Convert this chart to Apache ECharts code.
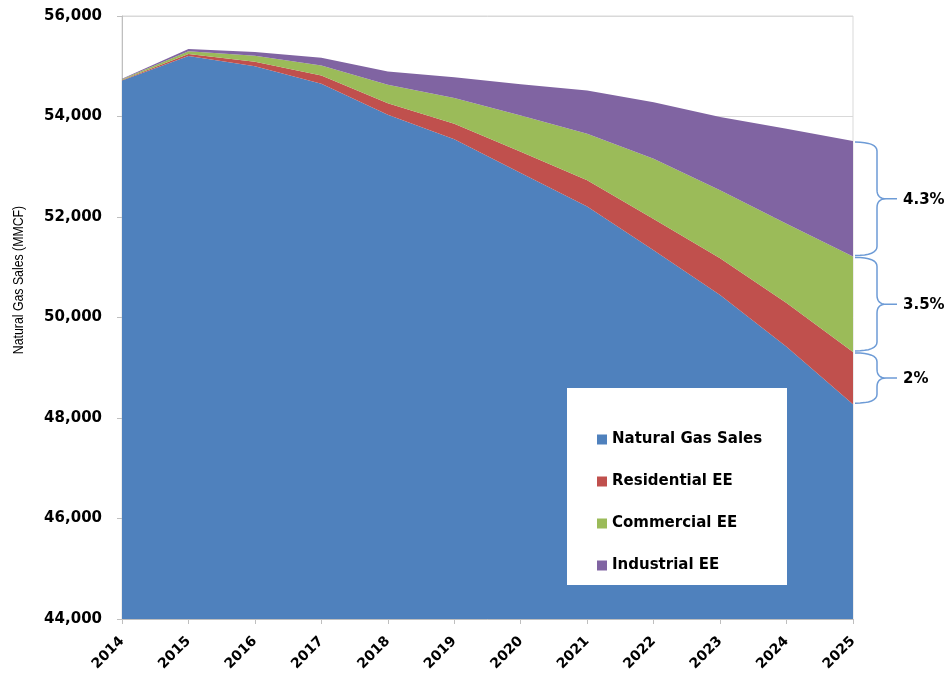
<!DOCTYPE html>
<html>
<head>
<meta charset="utf-8">
<script src="https://cdn.jsdelivr.net/npm/echarts@6/dist/echarts.min.js"></script>
<style>
html,body{margin:0;padding:0;background:#fff;}
#chart{width:949px;height:679px;}
</style>
</head>
<body>
<div id="chart"></div>
<script>
const years = ['2014','2015','2016','2017','2018','2019','2020','2021','2022','2023','2024','2025'];
const naturalGasSales = [54715, 55205, 55000, 54650, 54035, 53545, 52875, 52210, 51340, 50450, 49420, 48275];
const residentialEE = [10, 40, 90, 165, 230, 310, 425, 520, 620, 730, 870, 1040];
const commercialEE = [15, 55, 120, 200, 365, 515, 720, 925, 1200, 1350, 1575, 1900];
const industrialEE = [10, 45, 75, 155, 265, 410, 620, 860, 1125, 1460, 1890, 2295];
const seriesNames = ['Natural Gas Sales', 'Residential EE', 'Commercial EE', 'Industrial EE'];
const braceLabels = ['2%', '3.5%', '4.3%'];
const yTicks = { min: 44000, max: 56000, interval: 2000 };

const colors = ['#4f81bd', '#c0504d', '#9bbb59', '#8064a2'];
const last = years.length - 1;
const b0 = naturalGasSales[last];
const b1 = b0 + residentialEE[last];
const b2 = b1 + commercialEE[last];
const b3 = b2 + industrialEE[last];
const braceData = [
  [last, b0, b1, braceLabels[0]],
  [last, b1, b2, braceLabels[1]],
  [last, b2, b3, braceLabels[2]]
];

const chart = echarts.init(document.getElementById('chart'));
const boldFont = 'DejaVu Sans';

function quad(p0, c, p1, n, out) {
  for (let i = 1; i <= n; i++) {
    const t = i / n, u = 1 - t;
    out.push([u*u*p0[0] + 2*u*t*c[0] + t*t*p1[0], u*u*p0[1] + 2*u*t*c[1] + t*t*p1[1]]);
  }
}

function braceRender(params, api) {
  const xIdx = api.value(0);
  const pBot = api.coord([xIdx, api.value(1)]);
  const pTop = api.coord([xIdx, api.value(2)]);
  const x = pBot[0];
  const yA = pTop[1] + 1, yB = pBot[1] - 1;
  const xa = x + 2, xs = x + 24, xt = x + 44;
  const ym = (yA + yB) / 2;
  const r = Math.min(9, (yB - yA) / 4);
  const pts = [[xa, yA]];
  quad([xa, yA], [xs, yA], [xs, yA + r], 8, pts);
  pts.push([xs, ym - r]);
  quad([xs, ym - r], [xs, ym], [xs + r, ym], 8, pts);
  pts.push([xt, ym]);
  pts.push([xs + r, ym]);
  quad([xs + r, ym], [xs, ym], [xs, ym + r], 8, pts);
  pts.push([xs, yB - r]);
  quad([xs, yB - r], [xs, yB], [xa, yB], 8, pts);
  return {
    type: 'group',
    children: [
      { type: 'polyline', shape: { points: pts }, style: { stroke: '#6d9bd6', lineWidth: 1.5, fill: null } },
      { type: 'text', style: { text: api.value(3), x: x + 50, y: ym + 1, fill: '#000', font: 'bold 15px "' + boldFont + '"', align: 'left', verticalAlign: 'middle' } }
    ]
  };
}

const dataArrays = [naturalGasSales, residentialEE, commercialEE, industrialEE];
const areaSeries = dataArrays.map((arr, i) => ({
  name: seriesNames[i],
  type: 'line',
  stack: 'total',
  data: arr,
  symbol: 'none',
  lineStyle: { width: 0 },
  areaStyle: { color: colors[i], opacity: 1 },
  itemStyle: { color: colors[i] },
  emphasis: { disabled: true },
  z: 2
}));

chart.setOption({
  animation: false,
  color: colors,
  grid: { left: 122, right: 96, top: 16, bottom: 60, show: true, borderColor: '#d9d9d9', borderWidth: 1, backgroundColor: 'transparent' },
  legend: {
    data: seriesNames.map(n => ({ name: n, icon: 'rect' })),
    orient: 'vertical',
    left: 567,
    top: 388,
    itemWidth: 10,
    itemHeight: 10,
    itemGap: 27,
    padding: [44, 30, 12, 30],
    textStyle: { fontFamily: boldFont, fontWeight: 'bold', fontSize: 15, color: '#000' },
    z: 4
  },
  graphic: [
    { type: 'rect', shape: { x: 567, y: 388, width: 220, height: 197 }, style: { fill: '#fff' }, z: 3 },
    { type: 'text', x: 19, y: 280, rotation: Math.PI / 2, scaleX: 0.82, style: { text: 'Natural Gas Sales (MMCF)', font: '15px "Liberation Sans"', fill: '#000', align: 'center', verticalAlign: 'middle' }, z: 5 }
  ],
  xAxis: {
    type: 'category',
    data: years,
    boundaryGap: false,
    axisLine: { lineStyle: { color: '#bfbfbf' } },
    axisTick: { show: true, length: 5, lineStyle: { color: '#bfbfbf' } },
    axisLabel: { rotate: 45, fontFamily: boldFont, fontWeight: 'bold', fontSize: 14, color: '#000', margin: 20 },
    splitLine: { show: false }
  },
  yAxis: {
    type: 'value',
    min: yTicks.min,
    max: yTicks.max,
    interval: yTicks.interval,
    axisLine: { show: true, lineStyle: { color: '#bfbfbf' } },
    axisTick: { show: true, length: 5, lineStyle: { color: '#bfbfbf' } },
    axisLabel: {
      fontFamily: boldFont, fontWeight: 'bold', fontSize: 15, color: '#000', margin: 20,
      formatter: v => v.toLocaleString('en-US')
    },
    splitLine: { lineStyle: { color: '#d9d9d9' } }
  },
  series: areaSeries.concat([{
    type: 'custom',
    name: 'braces',
    renderItem: braceRender,
    data: braceData,
    clip: false,
    silent: true,
    z: 6
  }])
});
</script>
</body>
</html>
